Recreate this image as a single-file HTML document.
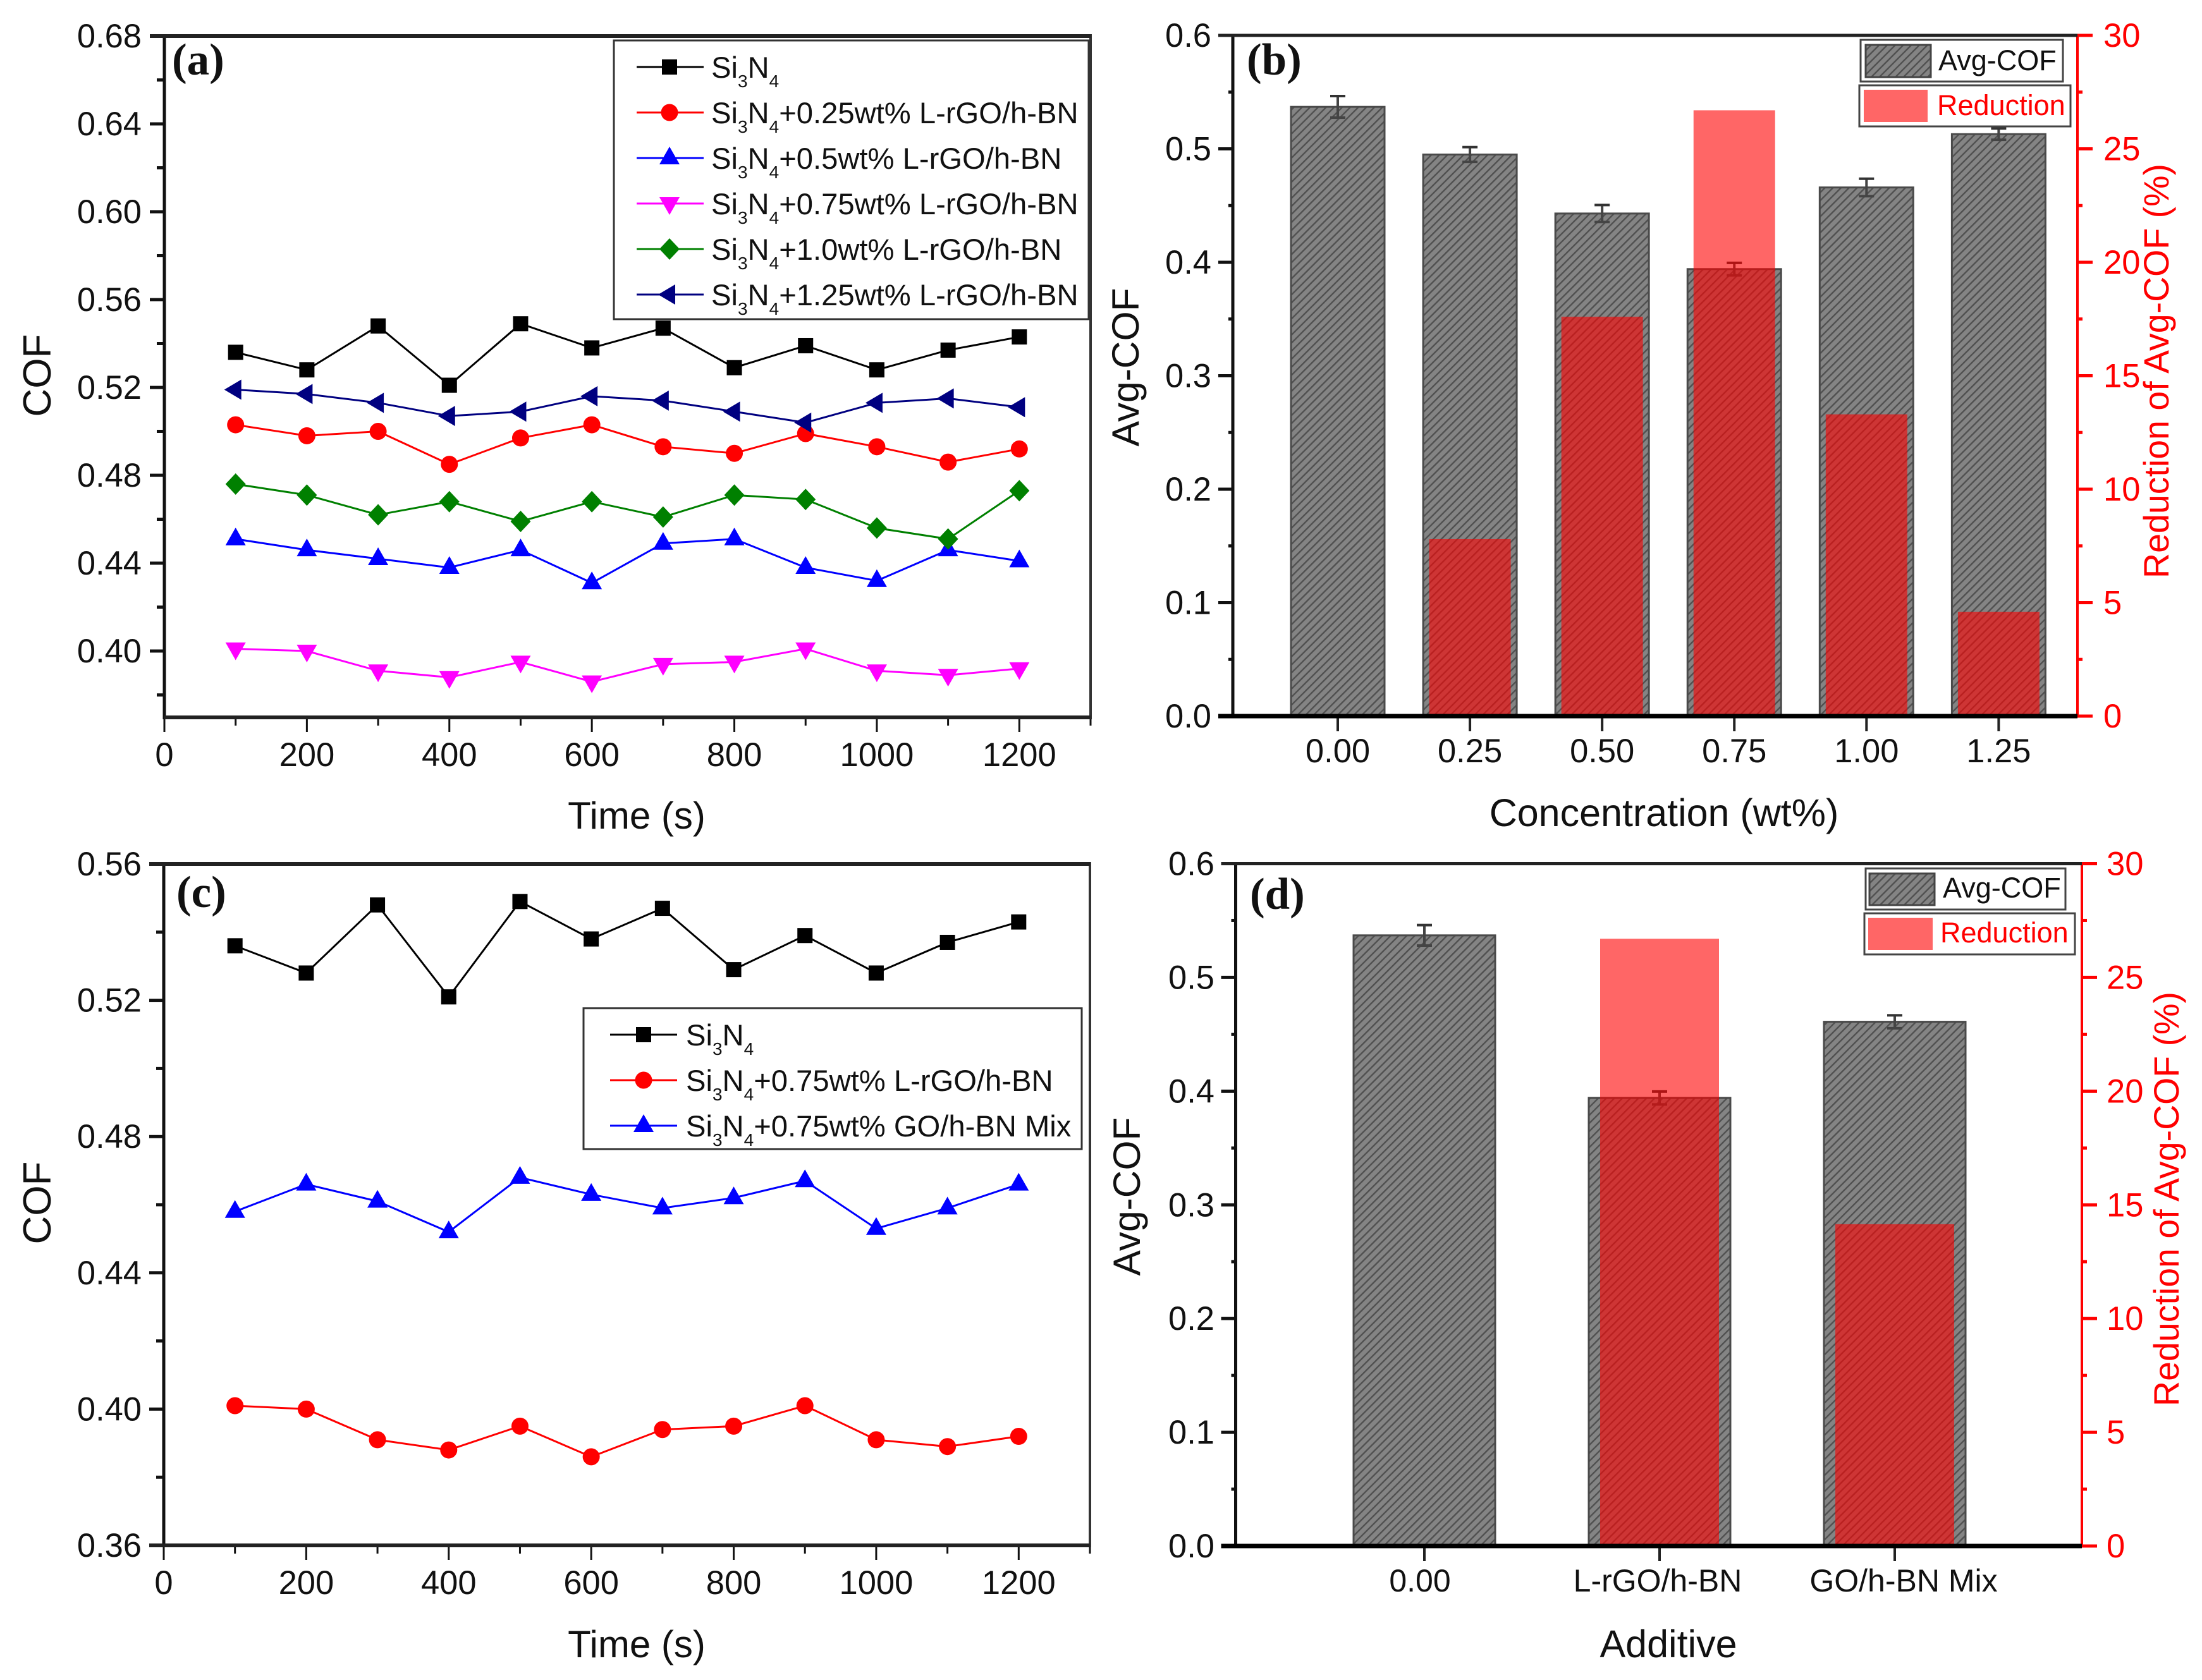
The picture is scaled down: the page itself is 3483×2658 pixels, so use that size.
<!DOCTYPE html>
<html lang="en">
<head>
<meta charset="utf-8">
<title>COF and Avg-COF charts</title>
<style>
html,body{margin:0;padding:0;background:#fff;}
svg{display:block;}
text{font-family:"Liberation Sans",sans-serif;fill:#111;}
.tick{font-size:52.5px;}
.title{font-size:60px;}
.leg{font-size:47.2px;}
.leg2{font-size:45px;}
.sub{font-size:28px;}
.red{fill:#f00;}
.plabel{font-family:"Liberation Serif",serif;font-weight:bold;font-size:71px;}
</style>
</head>
<body>
<svg id="figure" xmlns="http://www.w3.org/2000/svg" width="3483" height="2658" viewBox="0 0 3483 2658">
<defs>
<pattern id="hatch" patternUnits="userSpaceOnUse" width="9" height="9" patternTransform="rotate(45)">
<rect width="9" height="9" fill="#848484"/>
<rect x="0" y="0" width="2.4" height="9" fill="#505050"/>
</pattern>
</defs>
<rect width="3483" height="2658" fill="#fff"/>
<g id="panel-a"></g>
<g id="panel-b"></g>
<g id="panel-c"></g>
<g id="panel-d"></g>

<!-- Panel a static text -->
<text class="plabel" x="272" y="118">(a)</text>
<text class="title" text-anchor="middle" x="1007" y="1311">Time (s)</text>
<text class="title" text-anchor="middle" style="font-size:62px" transform="translate(80,594) rotate(-90)">COF</text>
<g>
<rect x="971" y="64" width="751" height="441" fill="#fff" stroke="#333" stroke-width="3"/>
<g id="legend-a-keys"></g>
<text class="leg" x="1125" y="123">Si<tspan class="sub" dy="15">3</tspan><tspan dy="-15">N</tspan><tspan class="sub" dy="15">4</tspan></text>
<text class="leg" x="1125" y="195">Si<tspan class="sub" dy="15">3</tspan><tspan dy="-15">N</tspan><tspan class="sub" dy="15">4</tspan><tspan dy="-15">+0.25wt% L-rGO/h-BN</tspan></text>
<text class="leg" x="1125" y="267">Si<tspan class="sub" dy="15">3</tspan><tspan dy="-15">N</tspan><tspan class="sub" dy="15">4</tspan><tspan dy="-15">+0.5wt% L-rGO/h-BN</tspan></text>
<text class="leg" x="1125" y="339">Si<tspan class="sub" dy="15">3</tspan><tspan dy="-15">N</tspan><tspan class="sub" dy="15">4</tspan><tspan dy="-15">+0.75wt% L-rGO/h-BN</tspan></text>
<text class="leg" x="1125" y="411">Si<tspan class="sub" dy="15">3</tspan><tspan dy="-15">N</tspan><tspan class="sub" dy="15">4</tspan><tspan dy="-15">+1.0wt% L-rGO/h-BN</tspan></text>
<text class="leg" x="1125" y="483">Si<tspan class="sub" dy="15">3</tspan><tspan dy="-15">N</tspan><tspan class="sub" dy="15">4</tspan><tspan dy="-15">+1.25wt% L-rGO/h-BN</tspan></text>
</g>

<!-- Panel b static text -->
<text class="plabel" x="1972" y="118">(b)</text>
<text class="title" style="font-size:61px" text-anchor="middle" x="2632" y="1307">Concentration (wt%)</text>
<text class="title" style="font-size:60.5px" text-anchor="middle" transform="translate(1801,581) rotate(-90)">Avg-COF</text>
<text class="title red" style="font-size:55.5px" text-anchor="middle" transform="translate(3430,587) rotate(-90)">Reduction of Avg-COF (%)</text>
<g>
<rect x="2943" y="63" width="320" height="66" fill="#fff" stroke="#444" stroke-width="3"/>
<rect x="2951" y="71" width="103" height="51" fill="url(#hatch)" stroke="#444" stroke-width="3"/>
<text class="leg2" x="3066" y="111">Avg-COF</text>
<rect x="2941" y="135" width="334" height="65" fill="#fff" stroke="#444" stroke-width="3"/>
<rect x="2948" y="142" width="101" height="51" fill="#ff6666"/>
<text class="leg2 red" x="3064" y="182">Reduction</text>
</g>

<!-- Panel c static text -->
<text class="plabel" x="279" y="1435">(c)</text>
<text class="title" text-anchor="middle" x="1007" y="2622">Time (s)</text>
<text class="title" text-anchor="middle" style="font-size:62px" transform="translate(80,1903) rotate(-90)">COF</text>
<g>
<rect x="923" y="1595" width="788" height="223" fill="#fff" stroke="#333" stroke-width="3"/>
<g id="legend-c-keys"></g>
<text class="leg" x="1085" y="1654">Si<tspan class="sub" dy="15">3</tspan><tspan dy="-15">N</tspan><tspan class="sub" dy="15">4</tspan></text>
<text class="leg" x="1085" y="1726">Si<tspan class="sub" dy="15">3</tspan><tspan dy="-15">N</tspan><tspan class="sub" dy="15">4</tspan><tspan dy="-15">+0.75wt% L-rGO/h-BN</tspan></text>
<text class="leg" x="1085" y="1798">Si<tspan class="sub" dy="15">3</tspan><tspan dy="-15">N</tspan><tspan class="sub" dy="15">4</tspan><tspan dy="-15">+0.75wt% GO/h-BN Mix</tspan></text>
</g>

<!-- Panel d static text -->
<text class="plabel" x="1977" y="1438">(d)</text>
<text class="title" style="font-size:61px" text-anchor="middle" x="2639" y="2622">Additive</text>
<text class="title" style="font-size:60.5px" text-anchor="middle" transform="translate(1803,1893) rotate(-90)">Avg-COF</text>
<text class="title red" style="font-size:55.5px" text-anchor="middle" transform="translate(3446,1897) rotate(-90)">Reduction of Avg-COF (%)</text>
<g>
<rect x="2951" y="1374" width="316" height="65" fill="#fff" stroke="#444" stroke-width="3"/>
<rect x="2957" y="1382" width="103" height="50" fill="url(#hatch)" stroke="#444" stroke-width="3"/>
<text class="leg2" x="3073" y="1420">Avg-COF</text>
<rect x="2949" y="1445" width="333" height="65" fill="#fff" stroke="#444" stroke-width="3"/>
<rect x="2955" y="1452" width="102" height="51" fill="#ff6666"/>
<text class="leg2 red" x="3069" y="1491">Reduction</text>
</g>
</svg>

<script>
// ---- Data: line panels ----
const timeSeconds = [100, 200, 300, 400, 500, 600, 700, 800, 900, 1000, 1100, 1200];
const cofSi3N4 = [0.536, 0.528, 0.548, 0.521, 0.549, 0.538, 0.547, 0.529, 0.539, 0.528, 0.537, 0.543];
const cof025 = [0.503, 0.498, 0.500, 0.485, 0.497, 0.503, 0.493, 0.490, 0.499, 0.493, 0.486, 0.492];
const cof050 = [0.451, 0.446, 0.442, 0.438, 0.446, 0.431, 0.449, 0.451, 0.438, 0.432, 0.446, 0.441];
const cof075 = [0.401, 0.400, 0.391, 0.388, 0.395, 0.386, 0.394, 0.395, 0.401, 0.391, 0.389, 0.392];
const cof100 = [0.476, 0.471, 0.462, 0.468, 0.459, 0.468, 0.461, 0.471, 0.469, 0.456, 0.451, 0.473];
const cof125 = [0.519, 0.517, 0.513, 0.507, 0.509, 0.516, 0.514, 0.509, 0.504, 0.513, 0.515, 0.511];
const cofGoMix = [0.458, 0.466, 0.461, 0.452, 0.468, 0.463, 0.459, 0.462, 0.467, 0.453, 0.459, 0.466];

const timeTickLabels = ['0', '200', '400', '600', '800', '1000', '1200'];
const timeMinorTicks = [100, 300, 500, 700, 900, 1100, 1300];
const cofTicksA = ['0.40', '0.44', '0.48', '0.52', '0.56', '0.60', '0.64', '0.68'];
const cofMinorA = [0.38, 0.42, 0.46, 0.50, 0.54, 0.58, 0.62, 0.66];
const cofTicksC = ['0.36', '0.40', '0.44', '0.48', '0.52', '0.56'];
const cofMinorC = [0.38, 0.42, 0.46, 0.50, 0.54];

// ---- Data: bar panels ----
const concentrationLabels = ['0.00', '0.25', '0.50', '0.75', '1.00', '1.25'];
const avgCofB = [0.537, 0.495, 0.443, 0.394, 0.466, 0.513];
const avgErrB = [0.0095, 0.0065, 0.0075, 0.0055, 0.0077, 0.005];
const reductionB = [0, 7.8, 17.6, 26.7, 13.3, 4.6];

const additiveLabels = ['0.00', 'L-rGO/h-BN', 'GO/h-BN Mix'];
const avgCofD = [0.537, 0.394, 0.461];
const avgErrD = [0.009, 0.0057, 0.0057];
const reductionD = [0, 26.7, 14.15];

const avgTickLabels = ['0.0', '0.1', '0.2', '0.3', '0.4', '0.5', '0.6'];
const avgMinorTicks = [0.05, 0.15, 0.25, 0.35, 0.45, 0.55];
const reductionTickLabels = ['0', '5', '10', '15', '20', '25', '30'];
const reductionMinorTicks = [2.5, 7.5, 12.5, 17.5, 22.5, 27.5];

// ---- Helpers ----
const SVG_NS = 'http://www.w3.org/2000/svg';
function linear(d0, d1, r0, r1) {
  return function (v) { return r0 + (v - d0) * (r1 - r0) / (d1 - d0); };
}
function mk(parent, tag, attrs, txt) {
  const e = document.createElementNS(SVG_NS, tag);
  for (const k in attrs) e.setAttribute(k, attrs[k]);
  if (txt !== undefined) e.textContent = txt;
  parent.appendChild(e);
  return e;
}
function line(parent, x1, y1, x2, y2, color, w, name) {
  const l = mk(parent, 'line', { x1: x1, y1: y1, x2: x2, y2: y2, stroke: color, 'stroke-width': w });
  
  
  return l;
}
function marker(parent, shape, cx, cy, color, name) {
  let m;
  if (shape === 'square') {
    m = mk(parent, 'rect', { x: cx - 12, y: cy - 12, width: 24, height: 24, fill: color });
  } else if (shape === 'circle') {
    m = mk(parent, 'circle', { cx: cx, cy: cy, r: 13.5, fill: color });
  } else {
    let pts;
    if (shape === 'up') pts = [[cx, cy - 18], [cx + 16, cy + 10], [cx - 16, cy + 10]];
    if (shape === 'down') pts = [[cx, cy + 18], [cx + 16, cy - 10], [cx - 16, cy - 10]];
    if (shape === 'diamond') pts = [[cx, cy - 17], [cx + 16, cy], [cx, cy + 17], [cx - 16, cy]];
    if (shape === 'left') pts = [[cx - 18, cy], [cx + 9, cy - 16], [cx + 9, cy + 16]];
    m = mk(parent, 'polygon', { points: pts.map(function (p) { return p.join(','); }).join(' '), fill: color });
  }
  
  
}
function drawSeries(parent, xs, ys, sx, sy, color, shape, name) {
  const pts = xs.map(function (x, i) { return sx(x) + ',' + sy(ys[i]); }).join(' ');
  const p = mk(parent, 'polyline', { points: pts, fill: 'none', stroke: color, 'stroke-width': 3 });
  
  
  xs.forEach(function (x, i) {
    marker(parent, shape, sx(x), sy(ys[i]), color, name + '-point');
  });
}
function label(parent, x, y, anchor, txt, color, size, name) {
  const t = mk(parent, 'text', { x: x, y: y, 'text-anchor': anchor, class: 'tick', style: 'fill:' + color + (size ? ';font-size:' + size + 'px' : '') }, txt);
  
  
}
function yTicks(parent, labels, minors, sy, axisX, dir, color, labelX, anchor, majorLen, minorLen, name) {
  labels.forEach(function (txt) {
    const v = parseFloat(txt);
    const y = sy(v);
    line(parent, axisX, y, axisX + dir * majorLen, y, color, 5, name + '-major-tick');
    label(parent, labelX, y + 18, anchor, txt, color, 0, name + '-tick-label');
  });
  minors.forEach(function (v) {
    const y = sy(v);
    line(parent, axisX, y, axisX + dir * minorLen, y, color, 5, name + '-minor-tick');
  });
}
function linePanelAxes(g, prefix, sx, sy, top, bottom, left, right, yLabels, yMinors) {
  yTicks(g, yLabels, yMinors, sy, left, -1, '#111', 224, 'end', 23, 12, prefix + '-y-axis');
  timeTickLabels.forEach(function (txt) {
    const v = parseFloat(txt);
    line(g, sx(v), bottom, sx(v), bottom + 23, '#111', 3, prefix + '-x-major-tick');
    label(g, sx(v), bottom + 77, 'middle', txt, '#111', 0, prefix + '-x-tick-label');
  });
  timeMinorTicks.forEach(function (v) {
    line(g, sx(v), bottom, sx(v), bottom + 13, '#111', 3, prefix + '-x-minor-tick');
  });
  line(g, left, top - 3, left, bottom + 3, '#111', 5, prefix + '-left-axis');
  line(g, right, top - 3, right, bottom + 3, '#333', 4, prefix + '-right-axis');
  line(g, left - 23, top, right, top, '#222', 6, prefix + '-top-axis');
  line(g, left - (yLabels === cofTicksC ? 23 : 0), bottom, right, bottom, '#222', 6, prefix + '-bottom-axis');
}
function barPanel(g, prefix, sx, sy, sr, values, errs, reductions, barW, redW, top, bottom, left, right, leftLabelX, rightLabelX, xLabels, xLabelDx, xLabelY, xLabelSize) {
  values.forEach(function (v, i) {
    const cx = sx(i);
    const b = mk(g, 'rect', { x: cx - barW / 2, y: sy(v), width: barW, height: bottom - sy(v), fill: 'url(#hatch)', stroke: '#4a4a4a', 'stroke-width': 3 });
    
    
    const hi = sy(v + errs[i]);
    const lo = sy(v - errs[i]);
    line(g, cx, hi, cx, lo, '#444', 4, prefix + '-error-bar');
    line(g, cx - 12, hi, cx + 12, hi, '#333', 4, prefix + '-error-cap-top');
    line(g, cx - 12, lo, cx + 12, lo, '#444', 4, prefix + '-error-cap-bottom');
  });
  reductions.forEach(function (v, i) {
    if (v <= 0) return;
    const r = mk(g, 'rect', { x: sx(i) - redW / 2, y: sr(v), width: redW, height: bottom - sr(v), fill: '#f00', 'fill-opacity': 0.6 });
    
    
  });
  yTicks(g, avgTickLabels, avgMinorTicks, sy, left, -1, '#111', leftLabelX, 'end', 23, 7, prefix + '-left-y-axis');
  yTicks(g, reductionTickLabels, reductionMinorTicks, sr, right, 1, '#f00', rightLabelX, 'start', 24, 8, prefix + '-right-y-axis');
  xLabels.forEach(function (txt, i) {
    line(g, sx(i), bottom, sx(i), bottom + 24, '#222', 4, prefix + '-x-tick');
    label(g, sx(i) + xLabelDx[i], xLabelY, 'middle', txt, '#111', xLabelSize, prefix + '-x-tick-label');
  });
  line(g, left, top, left, bottom, '#111', 5, prefix + '-left-axis');
  line(g, right, top, right, bottom, '#f00', 4, prefix + '-right-axis');
  line(g, left - 23, top, right, top, '#222', 5, prefix + '-top-axis');
  line(g, left - 23, bottom, right, bottom, '#000', 7, prefix + '-bottom-axis');
}
function legendKey(parent, x1, x2, xm, y, color, shape, name) {
  line(parent, x1, y, x2, y, color, 3, name + '-line');
  marker(parent, shape, xm, y, color, name + '-marker');
}

// ---- Panel a ----
const gA = document.getElementById('panel-a');
const xA = linear(0, 1300, 260, 1725);
const yA = linear(0.40, 0.68, 1030, 57);
linePanelAxes(gA, 'panel-a', xA, yA, 57, 1135, 260, 1725, cofTicksA, cofMinorA);
drawSeries(gA, timeSeconds, cofSi3N4, xA, yA, '#000', 'square', 'si3n4-series');
drawSeries(gA, timeSeconds, cof025, xA, yA, '#f00', 'circle', 'wt025-series');
drawSeries(gA, timeSeconds, cof050, xA, yA, '#00f', 'up', 'wt050-series');
drawSeries(gA, timeSeconds, cof075, xA, yA, '#f0f', 'down', 'wt075-series');
drawSeries(gA, timeSeconds, cof100, xA, yA, '#008000', 'diamond', 'wt100-series');
drawSeries(gA, timeSeconds, cof125, xA, yA, '#000080', 'left', 'wt125-series');
const keysA = document.getElementById('legend-a-keys');
legendKey(keysA, 1007, 1113, 1059, 106, '#000', 'square', 'legend-key-si3n4');
legendKey(keysA, 1007, 1113, 1059, 178, '#f00', 'circle', 'legend-key-wt025');
legendKey(keysA, 1007, 1113, 1059, 250, '#00f', 'up', 'legend-key-wt050');
legendKey(keysA, 1007, 1113, 1059, 322, '#f0f', 'down', 'legend-key-wt075');
legendKey(keysA, 1007, 1113, 1059, 394, '#008000', 'diamond', 'legend-key-wt100');
legendKey(keysA, 1007, 1113, 1059, 466, '#000080', 'left', 'legend-key-wt125');

// ---- Panel c ----
const gC = document.getElementById('panel-c');
const xC = linear(0, 1300, 259, 1724);
const yC = linear(0.36, 0.56, 2445, 1367);
linePanelAxes(gC, 'panel-c', xC, yC, 1367, 2445, 259, 1724, cofTicksC, cofMinorC);
drawSeries(gC, timeSeconds, cofSi3N4, xC, yC, '#000', 'square', 'c-si3n4-series');
drawSeries(gC, timeSeconds, cof075, xC, yC, '#f00', 'circle', 'c-l-rgo-series');
drawSeries(gC, timeSeconds, cofGoMix, xC, yC, '#00f', 'up', 'c-go-mix-series');
const keysC = document.getElementById('legend-c-keys');
legendKey(keysC, 965, 1071, 1018, 1637, '#000', 'square', 'legend-key-c-si3n4');
legendKey(keysC, 965, 1071, 1018, 1709, '#f00', 'circle', 'legend-key-c-l-rgo');
legendKey(keysC, 965, 1071, 1018, 1781, '#00f', 'up', 'legend-key-c-go-mix');

// ---- Panel b ----
const gB = document.getElementById('panel-b');
const xB = linear(0, 5, 2116, 3161.4);
const yB = linear(0, 0.6, 1133, 56);
const rB = linear(0, 30, 1133, 56);
barPanel(gB, 'panel-b', xB, yB, rB, avgCofB, avgErrB, reductionB, 148, 129, 56, 1133, 1950, 3286, 1916, 3327, concentrationLabels, [0, 0, 0, 0, 0, 0], 1206, 0);

// ---- Panel d ----
const gD = document.getElementById('panel-d');
const xD = linear(0, 2, 2253, 2997);
const yD = linear(0, 0.6, 2446, 1366.5);
const rD = linear(0, 30, 2446, 1366.5);
barPanel(gD, 'panel-d', xD, yD, rD, avgCofD, avgErrD, reductionD, 224, 188, 1366.5, 2446, 1954.5, 3293, 1921, 3332, additiveLabels, [-7, -3, 14], 2518, 50);
</script>
</body>
</html>
